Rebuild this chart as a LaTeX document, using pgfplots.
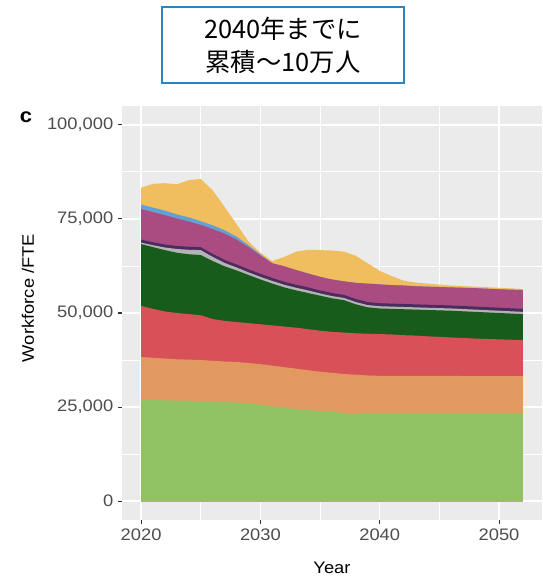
\documentclass[border=0pt]{standalone}
\usepackage{pgfplots}
\pgfplotsset{compat=1.18}
\usepackage{pgfplotstable}
\usepackage{fontspec}
\setmainfont{Liberation Sans}[FakeStretch=1.1]
\newfontfamily\cjk{Noto Sans CJK JP}
\definecolor{ggbg}{HTML}{EBEBEB}
\definecolor{cgreen}{HTML}{90C264}
\definecolor{corange}{HTML}{E2995F}
\definecolor{cred}{HTML}{D95158}
\definecolor{cdkgreen}{HTML}{175C1A}
\definecolor{cgray}{HTML}{B4B4B4}
\definecolor{cdkpurple}{HTML}{4B2C5E}
\definecolor{cmagenta}{HTML}{AA4B82}
\definecolor{clblue}{HTML}{64A0D2}
\definecolor{cyellow}{HTML}{F0BE5F}
\definecolor{labgray}{HTML}{4D4D4D}
\definecolor{tickgray}{HTML}{333333}
\definecolor{boxblue}{HTML}{2A85C0}

\pgfplotstableread{
year g o r dg gr dp m lb y
2020 27000 38300 51900 68300 68700 69500 77600 78800 83300
2021 26900 38100 51100 67500 68000 68800 76800 78000 84300
2022 26800 37900 50400 66700 67400 68200 76000 77200 84500
2023 26700 37700 50000 66000 67000 67800 75100 76200 84200
2024 26700 37600 49700 65600 66800 67600 74300 75400 85300
2025 26600 37500 49400 65400 66700 67500 73400 74400 85600
2026 26500 37300 48400 63800 64900 65700 72300 73300 82600
2027 26400 37100 47900 62400 63300 64100 71100 72000 78200
2028 26200 37000 47600 61300 62100 62900 69500 70300 73600
2029 25900 36700 47300 60100 60800 61600 67500 68000 69000
2030 25600 36400 47000 58900 59600 60400 65300 65600 66000
2031 25200 36000 46700 57800 58500 59300 63200 63200 63800
2032 24800 35600 46400 56800 57500 58300 62400 62400 64900
2033 24500 35200 46100 56000 56700 57500 61400 61400 66300
2034 24200 34800 45700 55300 56000 56800 60500 60500 66800
2035 23900 34400 45300 54600 55200 56000 59600 59600 66700
2036 23700 34100 45000 53900 54500 55300 58900 58900 66600
2037 23500 33800 44800 53400 54000 54800 58400 58400 66300
2038 23400 33600 44600 52300 52900 53700 58000 58000 65200
2039 23300 33400 44500 51500 52100 52900 57800 57800 63200
2040 23300 33300 44400 51200 51800 52600 57600 57600 61200
2041 23300 33300 44300 51100 51700 52500 57400 57400 59800
2042 23300 33300 44100 51000 51600 52400 57300 57300 58600
2043 23300 33300 44000 50900 51500 52300 57100 57100 58100
2044 23300 33300 43800 50800 51400 52200 57000 57000 57800
2046 23300 33300 43500 50600 51200 52000 56800 56800 57300
2048 23300 33200 43200 50300 50900 51700 56600 56600 57000
2050 23300 33200 43000 50000 50600 51400 56300 56300 56700
2052 23300 33200 42800 49700 50300 51100 56100 56100 56400
}\wf

\begin{document}
\begin{tikzpicture}[x=0.75pt,y=0.75pt]
\path[use as bounding box] (0,0) rectangle (542,577);
\begin{axis}[
  at={(91.5pt,42.75pt)}, anchor=south west,
  scale only axis, width=315pt, height=310.5pt,
  xmin=2018.4, xmax=2053.6, ymin=-5000, ymax=105000,
  axis background/.style={fill=ggbg},
  axis line style={draw=none},
  xtick={2020,2030,2040,2050},
  xticklabels={2020,2030,2040,2050},
  ytick={0,25000,50000,75000,100000},
  yticklabels={0,{25,000},{50,000},{75,000},{100,000}},
  minor xtick={2025,2035,2045},
  minor ytick={12500,37500,62500,87500},
  grid=both,
  major grid style={white, line width=1.1pt},
  minor grid style={white, line width=0.55pt},
  tick align=outside, major tick length=3pt, minor tick length=0pt,
  xtick pos=bottom, ytick pos=left,
  tick style={color=tickgray, line width=0.8pt},
  scaled y ticks=false,
  yticklabel style={font=\fontsize{12.5pt}{14pt}\selectfont, text=labgray},
  xticklabel style={font=\fontsize{12.5pt}{14pt}\selectfont, text=labgray},
]
\addplot[fill=cyellow, draw=none] table[x=year, y=y] {\wf} \closedcycle;
\addplot[fill=clblue, draw=none] table[x=year, y=lb] {\wf} \closedcycle;
\addplot[fill=cmagenta, draw=none] table[x=year, y=m] {\wf} \closedcycle;
\addplot[fill=cdkpurple, draw=none] table[x=year, y=dp] {\wf} \closedcycle;
\addplot[fill=cgray, draw=none] table[x=year, y=gr] {\wf} \closedcycle;
\addplot[fill=cdkgreen, draw=none] table[x=year, y=dg] {\wf} \closedcycle;
\addplot[fill=cred, draw=none] table[x=year, y=r] {\wf} \closedcycle;
\addplot[fill=corange, draw=none] table[x=year, y=o] {\wf} \closedcycle;
\addplot[fill=cgreen, draw=none] table[x=year, y=g] {\wf} \closedcycle;
\end{axis}
\node[font=\fontsize{12.5pt}{14pt}\selectfont, text=black] at (332,9) {Year};
\node[font=\fontsize{12.5pt}{14pt}\selectfont, text=black, rotate=90] at (28,279) {Workforce /FTE};
\node[font=\fontsize{15pt}{17pt}\selectfont\bfseries, text=black] at (26,460) {c};
\node[draw=boxblue, line width=1.5pt, minimum width=181.5pt, minimum height=57pt, inner sep=0pt, align=center,
  font=\cjk\fontsize{19pt}{24.75pt}\selectfont] at (283,532) {2040年までに\\累積～10万人};
\end{tikzpicture}
\end{document}
